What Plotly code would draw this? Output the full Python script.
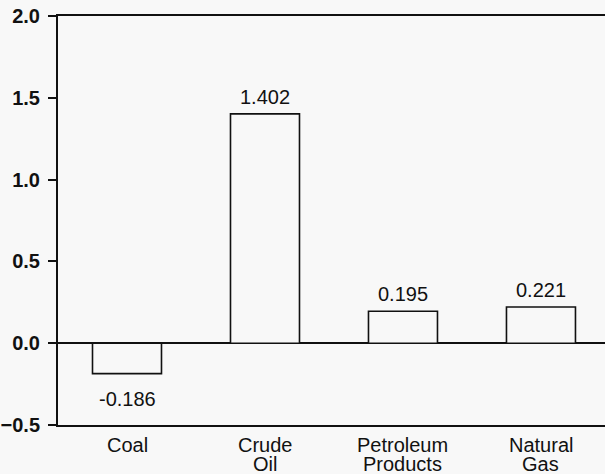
import plotly.graph_objects as go

categories = ["Coal", "Crude Oil", "Petroleum Products", "Natural Gas"]
label_line1 = ["Coal", "Crude", "Petroleum", "Natural"]
label_line2 = ["", "Oil", "Products", "Gas"]
values = [-0.186, 1.402, 0.195, 0.221]
value_text = ["-0.186", "1.402", "0.195", "0.221"]

BG = "#f8f8f8"
FONT = "Liberation Sans, Arial, sans-serif"

fig = go.Figure()
fig.add_trace(go.Bar(
    x=categories, y=values, width=0.5,
    marker=dict(color=BG, line=dict(color="#111111", width=1.6)),
    hoverinfo="skip",
))

annotations = []
for c, v, t in zip(categories, values, value_text):
    annotations.append(dict(
        x=c, y=v, xref="x", yref="y", text=t, showarrow=False,
        font=dict(family=FONT, size=20, color="#111111"),
        yanchor="bottom" if v >= 0 else "top",
        yshift=4 if v >= 0 else -12,
    ))
for c, l1, l2 in zip(categories, label_line1, label_line2):
    annotations.append(dict(
        x=c, y=0, xref="x", yref="paper", text=l1, showarrow=False,
        font=dict(family=FONT, size=20, color="#111111"),
        yanchor="middle", yshift=-20,
    ))
    if l2:
        annotations.append(dict(
            x=c, y=0, xref="x", yref="paper", text=l2, showarrow=False,
            font=dict(family=FONT, size=20, color="#111111"),
            yanchor="middle", yshift=-39,
        ))

fig.update_layout(
    width=605, height=474,
    margin=dict(l=58, r=0, t=16, b=49, autoexpand=False),
    paper_bgcolor=BG, plot_bgcolor=BG,
    showlegend=False,
    annotations=annotations,
    xaxis=dict(
        type="category", range=[-0.5, 3.464], automargin=False,
        showticklabels=False, ticks="",
        showline=True, linecolor="#111111", linewidth=2, mirror=True,
        showgrid=False, zeroline=False, fixedrange=True,
    ),
    yaxis=dict(
        range=[-0.5, 2.0], dtick=0.5, tick0=0, tickformat=".1f",
        automargin=False,
        ticks="outside", ticklen=8, tickwidth=2, tickcolor="#111111",
        ticklabelstandoff=4,
        tickfont=dict(family=FONT, size=20, color="#111111", weight="bold"),
        showline=True, linecolor="#111111", linewidth=2,
        showgrid=False,
        zeroline=True, zerolinecolor="#111111", zerolinewidth=2,
        fixedrange=True,
    ),
)

fig.write_html(
    "out.html",
    config={"displayModeBar": False},
    post_script="document.body.style.margin='0';document.body.style.background='#f8f8f8';",
)
